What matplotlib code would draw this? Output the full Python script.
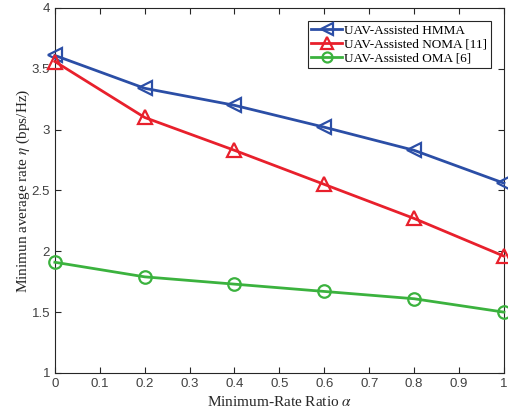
import numpy as np
import matplotlib
matplotlib.use("Agg")
import matplotlib.pyplot as plt

alpha = [0, 0.2, 0.4, 0.6, 0.8, 1.0]
hmma = [3.61, 3.34, 3.20, 3.02, 2.83, 2.56]
noma = [3.56, 3.10, 2.83, 2.55, 2.27, 1.96]
oma = [1.91, 1.79, 1.73, 1.67, 1.61, 1.50]

xticks = [0, 0.1, 0.2, 0.3, 0.4, 0.5, 0.6, 0.7, 0.8, 0.9, 1]
yticks = [1, 1.5, 2, 2.5, 3, 3.5, 4]

plt.rcParams["mathtext.fontset"] = "stix"

fig = plt.figure(figsize=(5.08, 4.2), dpi=100)
ax = fig.add_axes([0.108, 0.112, 0.884, 0.869])

ax.plot(alpha, hmma, color="#2B4EA6", lw=2, marker="<", ms=10, mfc="none", mew=1.6,
        label="UAV-Assisted HMMA", clip_on=False, zorder=3)
ax.plot(alpha, noma, color="#E8202C", lw=2, marker="^", ms=10, mfc="none", mew=1.6,
        label="UAV-Assisted NOMA [11]", clip_on=False, zorder=3)
ax.plot(alpha, oma, color="#3BB23E", lw=2, marker="o", ms=9, mfc="none", mew=1.6,
        label="UAV-Assisted OMA [6]", clip_on=False, zorder=3)

ax.set_xlim(0, 1)
ax.set_ylim(1, 4)
ax.set_xticks(xticks)
ax.set_xticklabels([f"{t:g}" for t in xticks])
ax.set_yticks(yticks)
ax.set_yticklabels([f"{t:g}" for t in yticks])
ax.tick_params(direction="in", length=4, labelsize=9.5, colors="#262626", labelcolor="#404040",
               top=True, right=True)
for lab in ax.get_xticklabels() + ax.get_yticklabels():
    lab.set_fontfamily("Liberation Sans")
for s in ax.spines.values():
    s.set_color("#262626")
    s.set_linewidth(0.8)

ax.set_xlabel(r"Minimum-Rate Ratio $\alpha$", family="Liberation Serif", fontsize=11, color="#262626")
ax.set_ylabel(r"Minimun average rate $\eta$ (bps/Hz)", family="Liberation Serif", fontsize=11,
              color="#262626", labelpad=0)

leg = ax.legend(loc="upper right", prop={"family": "Liberation Serif", "size": 9.5},
                fancybox=False, edgecolor="#262626", handlelength=2.3, borderaxespad=1.0,
                borderpad=0.25, labelspacing=0.12, handletextpad=0.2, markerscale=0.8,
                framealpha=1)
leg.get_frame().set_linewidth(0.8)

fig.savefig("out.png", dpi=100)
